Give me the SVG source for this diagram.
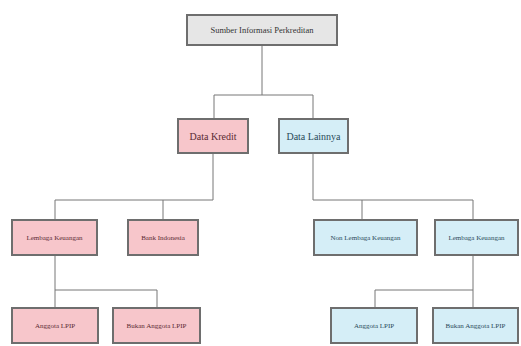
<svg xmlns="http://www.w3.org/2000/svg" width="521" height="346" viewBox="0 0 521 346">
<style>
.box{stroke:#6e6e6e;stroke-width:2}
.gray{fill:#e6e6e6}
.pink{fill:#f7c6cb}
.blue{fill:#d5eef7}
.lbl{font-family:"Liberation Serif",serif;text-anchor:middle;dominant-baseline:central}
.pt{fill:#5a2a33}
.bt{fill:#2a4a5a}
.s{font-size:7px}
.m{font-size:10px}
.conn{fill:none;stroke:#777;stroke-width:1}
</style>
<rect width="521" height="346" fill="#ffffff"/>
<g id="connectors">
<path class="conn" d="M262,45 V95 M214,95 H313 M214,95 V119 M313,95 V119"/>
<path class="conn" d="M213,153 V200 M55,200 H213 M55,200 V220 M163,200 V220"/>
<path class="conn" d="M313,153 V200 M313,200 H473 M362,200 V220 M473,200 V220"/>
<path class="conn" d="M55,255 V290 M55,290 H157 M55,290 V308 M157,290 V308"/>
<path class="conn" d="M473,255 V290 M375,290 H473 M375,290 V308 M473,290 V308"/>
</g>
<g id="root">
<rect class="box gray" x="187" y="15" width="150" height="30"/>
<text class="lbl" x="262" y="30" font-size="8.5" fill="#333">Sumber Informasi Perkreditan</text>
</g>
<g id="data-kredit">
<rect class="box pink" x="178" y="119" width="70" height="34"/>
<text class="lbl m pt" x="213" y="136">Data Kredit</text>
</g>
<g id="data-lainnya">
<rect class="box blue" x="279" y="119" width="69" height="34"/>
<text class="lbl m bt" x="313.5" y="136">Data Lainnya</text>
</g>
<g id="lembaga-keuangan-1">
<rect class="box pink" x="12" y="220" width="85" height="35"/>
<text class="lbl s pt" x="54.5" y="237.5">Lembaga Keuangan</text>
</g>
<g id="bank-indonesia">
<rect class="box pink" x="128" y="220" width="70" height="35"/>
<text class="lbl s pt" x="163" y="237.5">Bank Indonesia</text>
</g>
<g id="non-lembaga-keuangan">
<rect class="box blue" x="314" y="220" width="103" height="35"/>
<text class="lbl s bt" x="365.5" y="237.5">Non Lembaga Keuangan</text>
</g>
<g id="lembaga-keuangan-2">
<rect class="box blue" x="435" y="220" width="83" height="35"/>
<text class="lbl s bt" x="476.5" y="237.5">Lembaga Keuangan</text>
</g>
<g id="anggota-lpip-1">
<rect class="box pink" x="12" y="308" width="86" height="35"/>
<text class="lbl s pt" x="55" y="325.5">Anggota LPIP</text>
</g>
<g id="bukan-anggota-lpip-1">
<rect class="box pink" x="113" y="308" width="87" height="35"/>
<text class="lbl s pt" x="156.5" y="325.5">Bukan Anggota LPIP</text>
</g>
<g id="anggota-lpip-2">
<rect class="box blue" x="331" y="308" width="86" height="35"/>
<text class="lbl s bt" x="374" y="325.5">Anggota LPIP</text>
</g>
<g id="bukan-anggota-lpip-2">
<rect class="box blue" x="433" y="308" width="85" height="35"/>
<text class="lbl s bt" x="475.5" y="325.5">Bukan Anggota LPIP</text>
</g>
</svg>
